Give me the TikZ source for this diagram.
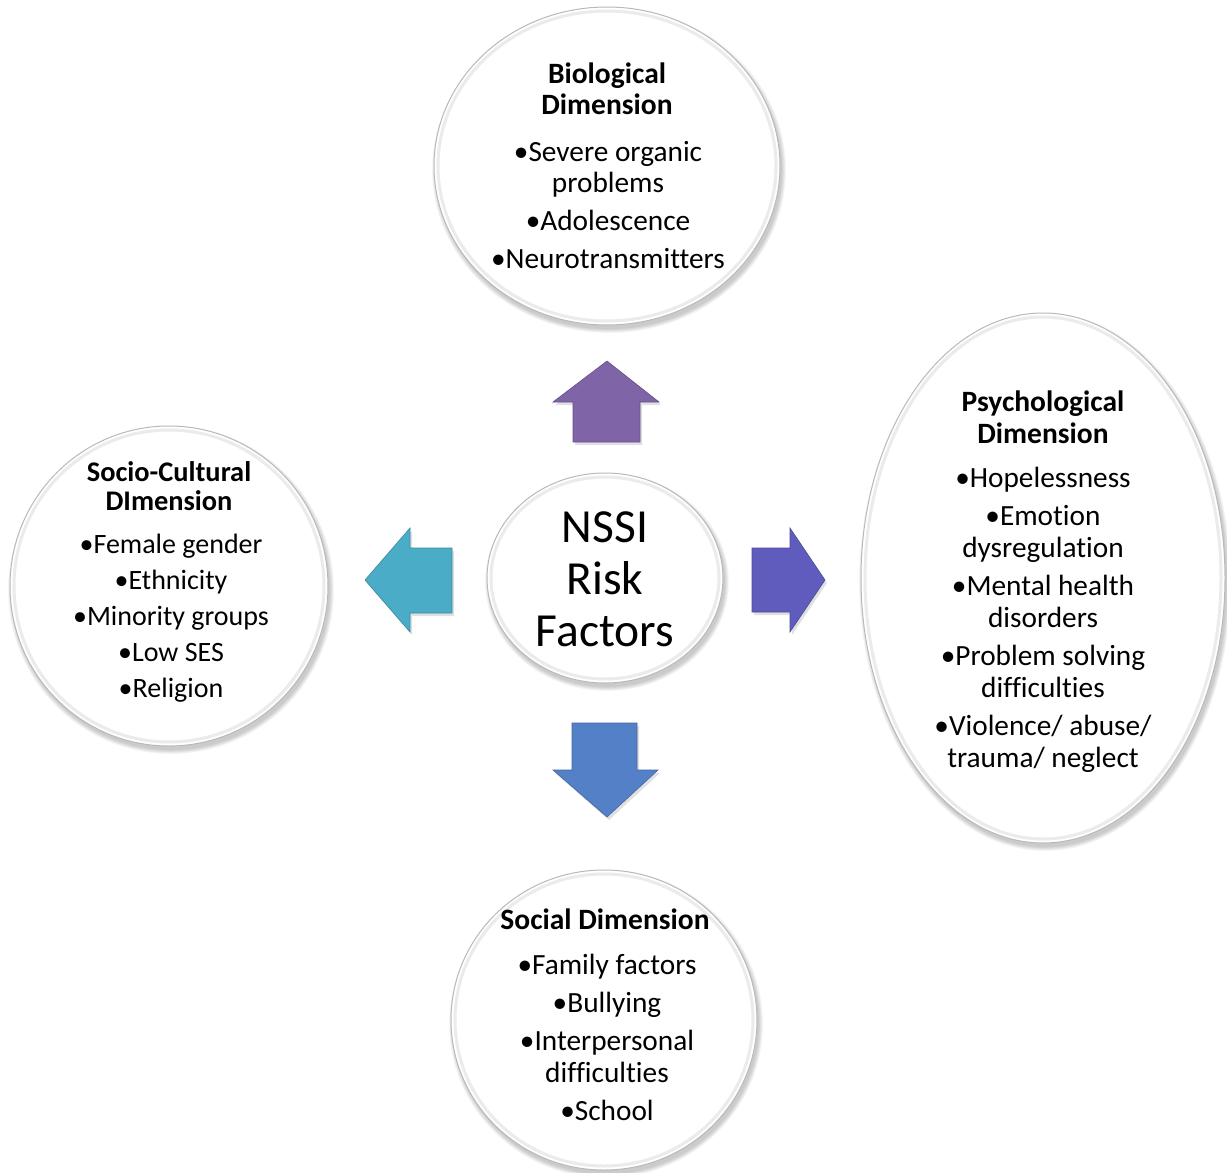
\documentclass[tikz,border=0pt]{standalone}
\usepackage{fontspec}
\setmainfont{Carlito}[Ligatures=NoCommon, RawFeature={-calt;-clig;-dlig}]
\usetikzlibrary{shapes.geometric}

\definecolor{upcol}{RGB}{128,100,168}
\definecolor{leftcol}{RGB}{75,172,200}
\definecolor{rightcol}{RGB}{96,92,190}
\definecolor{downcol}{RGB}{84,128,200}

\tikzset{
  bubble/.style={ellipse, draw=gray!55, line width=1pt, fill=white, inner sep=0pt},
  head/.style={font=\bfseries\fontsize{29.5}{31}\selectfont, align=center, inner sep=0pt, anchor=north},
  items/.style={font=\fontsize{29.3}{31}\selectfont, align=center, inner sep=0pt, anchor=north},
  blockarrow/.style={line width=0.6pt, line join=miter},
}

% bevelled white disc: soft shadow, outline and inner rim
\newcommand\bubbledisc[5]{%
  \foreach \k in {0,...,5}
    \fill[black, opacity=0.035] (#2+2,#3+4) ellipse ({#4+\k*0.8} and {#5+\k*0.8});
  \node[bubble, minimum width={(2*#4)*1pt}, minimum height={(2*#5)*1pt}] (#1) at (#2,#3) {};
  \draw[gray!16, line width=3pt] (#2,#3) ellipse ({#4-4} and {#5-4});
}

\begin{document}
\begin{tikzpicture}[x=1pt, y=-1pt]
\useasboundingbox (0,0) rectangle (1227,1173);
\fill[white] (0,0) rectangle (1227,1173);

% discs
\bubbledisc{bio}{607}{166}{173}{159}
\bubbledisc{core}{605}{578}{118}{105}
\bubbledisc{psych}{1043}{578}{182}{265}
\bubbledisc{socio}{169}{586}{159}{160}
\bubbledisc{social}{604}{1020}{153}{150}

% block arrows with a faint shadow
\foreach \dx/\dy/\o in {2/3/0.12}{
  \fill[black, opacity=\o] (607+\dx,361+\dy) -- (659+\dx,402+\dy) -- (640+\dx,402+\dy) -- (640+\dx,442+\dy) -- (573+\dx,442+\dy) -- (573+\dx,402+\dy) -- (553+\dx,402+\dy) -- cycle;
  \fill[black, opacity=\o] (365+\dx,580+\dy) -- (410+\dx,528+\dy) -- (410+\dx,548+\dy) -- (452+\dx,548+\dy) -- (452+\dx,613+\dy) -- (410+\dx,613+\dy) -- (410+\dx,632+\dy) -- cycle;
  \fill[black, opacity=\o] (825+\dx,580+\dy) -- (790+\dx,528+\dy) -- (790+\dx,548+\dy) -- (752+\dx,548+\dy) -- (752+\dx,612+\dy) -- (790+\dx,612+\dy) -- (790+\dx,632+\dy) -- cycle;
  \fill[black, opacity=\o] (607+\dx,817+\dy) -- (658+\dx,770+\dy) -- (637+\dx,770+\dy) -- (637+\dx,723+\dy) -- (572+\dx,723+\dy) -- (572+\dx,770+\dy) -- (553+\dx,770+\dy) -- cycle;
}
\draw[blockarrow, fill=upcol, draw=upcol!80!black] (607,361) -- (659,402) -- (640,402) -- (640,442) -- (573,442) -- (573,402) -- (553,402) -- cycle;
\draw[blockarrow, fill=leftcol, draw=leftcol!80!black] (365,580) -- (410,528) -- (410,548) -- (452,548) -- (452,613) -- (410,613) -- (410,632) -- cycle;
\draw[blockarrow, fill=rightcol, draw=rightcol!80!black] (825,580) -- (790,528) -- (790,548) -- (752,548) -- (752,612) -- (790,612) -- (790,632) -- cycle;
\draw[blockarrow, fill=downcol, draw=downcol!80!black] (607,817) -- (658,770) -- (637,770) -- (637,723) -- (572,723) -- (572,770) -- (553,770) -- cycle;

% centre
\node[inner sep=0pt, anchor=north, align=center, font=\fontsize{47.5}{52}\selectfont] (coretext) at (605,511) {NSSI\\Risk\\Factors};

% biological
\node[head] (bioH) at (607,63) {Biological\\Dimension};
\node[items] (bioT) at (608,141) {•Severe organic\\problems\\[7pt]•Adolescence\\[7pt]•Neurotransmitters};

% psychological
\node[head, font=\bfseries\fontsize{29.5}{32}\selectfont] (psychH) at (1043,391) {Psychological\\Dimension};
\node[items, font=\fontsize{29.3}{32}\selectfont] (psychT) at (1043,467) {•Hopelessness\\[6pt]•Emotion\\dysregulation\\[6pt]•Mental health\\disorders\\[6pt]•Problem solving\\difficulties\\[6pt]•Violence/ abuse/\\trauma/ neglect};

% socio-cultural
\node[head, font=\bfseries\fontsize{28.4}{29}\selectfont] (socioH) at (169,461) {Socio-Cultural\\DImension};
\node[items, font=\fontsize{28}{31}\selectfont] (socioT) at (171,534) {•Female gender\\[5pt]•Ethnicity\\[5pt]•Minority groups\\[5pt]•Low SES\\[5pt]•Religion};

% social
\node[head] (socialH) at (605,909) {Social Dimension};
\node[items, font=\fontsize{29.3}{32}\selectfont] (socialT) at (607,954) {•Family factors\\[6pt]•Bullying\\[6pt]•Interpersonal\\difficulties\\[6pt]•School};
\end{tikzpicture}
\end{document}
